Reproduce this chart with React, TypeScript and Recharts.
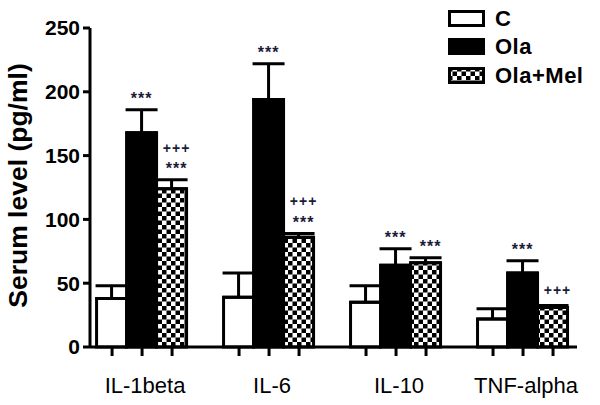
import React from 'react';
import { BarChart, Bar, XAxis, YAxis, ErrorBar, LabelList, Legend } from 'recharts';

const categories = ['IL-1beta', 'IL-6', 'IL-10', 'TNF-alpha'];
const positions = [0, 1, 2, 3];
const seriesNames = ['C', 'Ola', 'Ola+Mel'];
const cValues = [38, 39, 35, 22];
const cErrors = [10, 19, 13, 8];
const olaValues = [168, 194, 64, 58];
const olaErrors = [18, 28, 13, 9.5];
const melValues = [124, 86, 66, 31];
const melErrors = [7, 3, 4, 1.5];
const olaMarks = ['***', '***', '***', '***'];
const melMarksLower = ['***', '***', '***', '+++'];
const melMarksUpper = ['+++', '+++', '', ''];
const yTicks = [0, 50, 100, 150, 200, 250];

const data = positions.map((p, i) => ({
  pos: p,
  name: categories[i],
  c: cValues[i],
  cErr: [0, cErrors[i]],
  ola: olaValues[i],
  olaErr: [0, olaErrors[i]],
  mel: melValues[i],
  melErr: [0, melErrors[i]],
}));

const BAR = 30;
const FONT = 'Arial, "Liberation Sans", Helvetica, sans-serif';

const XTick = (props: any) => {
  const { x, y, payload } = props;
  return (
    <g>
      {[-1, 0, 1].map((k) => (
        <line key={k} x1={x + k * BAR} x2={x + k * BAR} y1={y} y2={y + 9} stroke="#000" strokeWidth={3} />
      ))}
      <text x={x + 3} y={y + 46} textAnchor="middle" fontFamily={FONT} fontSize={22} fill="#000">
        {categories[payload.value]}
      </text>
    </g>
  );
};

const makeMarks = (lines: string[][], errors: number[], values: number[], dx: number) => (props: any) => {
  const { x, y, width, height, index } = props;
  if (index == null) return null;
  const ppu = height / values[index];
  const errTop = y - errors[index] * ppu;
  const out: any[] = [];
  lines.forEach((arr, k) => {
    const m = arr[index];
    if (!m) return;
    const center = errTop - 15 - 17 * k;
    const isStar = m[0] === '*';
    const fs = isStar ? 16 : 14;
    const base = center + (isStar ? 0.57 * fs : 0.34 * fs);
    out.push(
      <text key={k} x={x + width / 2 + dx} y={base} textAnchor="middle" fontFamily={FONT} fontWeight="bold" fontSize={fs} letterSpacing={1} fill="#1b1b3a">
        {m}
      </text>
    );
  });
  return <g>{out}</g>;
};

const Swatch = ({ kind }: { kind: number }) => (
  <svg width={37} height={17} style={{ display: 'block' }}>
    <defs>
      <pattern id={'lg' + kind} patternUnits="userSpaceOnUse" width={9} height={9}>
        <rect width={9} height={9} fill="#fff" />
        <rect width={4.5} height={4.5} fill="#000" />
        <rect x={4.5} y={4.5} width={4.5} height={4.5} fill="#000" />
      </pattern>
    </defs>
    <rect x={1.5} y={1.5} width={34} height={14} fill={kind === 0 ? '#fff' : kind === 1 ? '#000' : 'url(#lg2)'} stroke="#000" strokeWidth={3} />
  </svg>
);

const LegendContent = () => (
  <div style={{ fontFamily: FONT }}>
    {seriesNames.map((n, i) => (
      <div key={n} style={{ display: 'flex', alignItems: 'center', height: 28.5 }}>
        <Swatch kind={i} />
        <span style={{ marginLeft: 10, fontWeight: 'bold', fontSize: 22, letterSpacing: 0.5, color: '#000', lineHeight: '17px' }}>{n}</span>
      </div>
    ))}
  </div>
);

const YLabel = (props: any) => {
  const vb = props.viewBox || {};
  const cy = (vb.y ?? 28) + (vb.height ?? 319) / 2;
  return (
    <text x={0} y={0} transform={`translate(27, ${cy - 2}) rotate(-90)`} textAnchor="middle" fontFamily={FONT} fontWeight="bold" fontSize={26.5} fill="#000">
      Serum level (pg/ml)
    </text>
  );
};

export default function App() {
  return (
    <div style={{ position: 'absolute', left: 0, top: 0, width: 600, height: 405, background: '#fff' }}>
      <svg width={0} height={0} style={{ position: 'absolute' }}>
        <defs>
          <pattern id="checker" patternUnits="userSpaceOnUse" width={9} height={9}>
            <rect width={9} height={9} fill="#fff" />
            <rect width={4.5} height={4.5} fill="#000" />
            <rect x={4.5} y={4.5} width={4.5} height={4.5} fill="#000" />
          </pattern>
        </defs>
      </svg>
      <BarChart width={600} height={405} data={data} margin={{ top: 28, right: 23, bottom: 0, left: 0 }} barGap={0}>
        <XAxis
          type="number"
          dataKey="pos"
          domain={[-0.41, 3.425]}
          ticks={positions}
          allowDataOverflow
          height={58}
          axisLine={{ stroke: '#000', strokeWidth: 3 }}
          tickLine={false}
          tickSize={0}
          tickMargin={0}
          tick={<XTick />}
          interval={0}
        />
        <YAxis
          width={90}
          domain={[0, 250]}
          ticks={yTicks}
          interval={0}
          axisLine={{ stroke: '#000', strokeWidth: 3 }}
          tickLine={{ stroke: '#000', strokeWidth: 3 }}
          tickSize={7}
          tickMargin={3}
          tick={{ fill: '#000', fontSize: 21, fontWeight: 'bold', fontFamily: FONT }}
          label={<YLabel />}
        />
        <Legend
          layout="vertical"
          align="center"
          verticalAlign="middle"
          content={<LegendContent />}
          wrapperStyle={{ position: 'absolute', top: 4, left: 448, width: 150 }}
        />
        <Bar dataKey="c" name={seriesNames[0]} fill="#fff" stroke="#000" strokeWidth={3} barSize={BAR} isAnimationActive={false}>
          <ErrorBar dataKey="cErr" width={16} strokeWidth={3} stroke="#000" direction="y" />
        </Bar>
        <Bar dataKey="ola" name={seriesNames[1]} fill="#000" stroke="#000" strokeWidth={3} barSize={BAR} isAnimationActive={false}>
          <ErrorBar dataKey="olaErr" width={16} strokeWidth={3} stroke="#000" direction="y" />
          <LabelList dataKey="ola" content={makeMarks([olaMarks], olaErrors, olaValues, 0)} />
        </Bar>
        <Bar dataKey="mel" name={seriesNames[2]} fill="url(#checker)" stroke="#000" strokeWidth={3} barSize={BAR} isAnimationActive={false}>
          <ErrorBar dataKey="melErr" width={16} strokeWidth={3} stroke="#000" direction="y" />
          <LabelList dataKey="mel" content={makeMarks([melMarksLower, melMarksUpper], melErrors, melValues, 5)} />
        </Bar>
      </BarChart>
    </div>
  );
}
